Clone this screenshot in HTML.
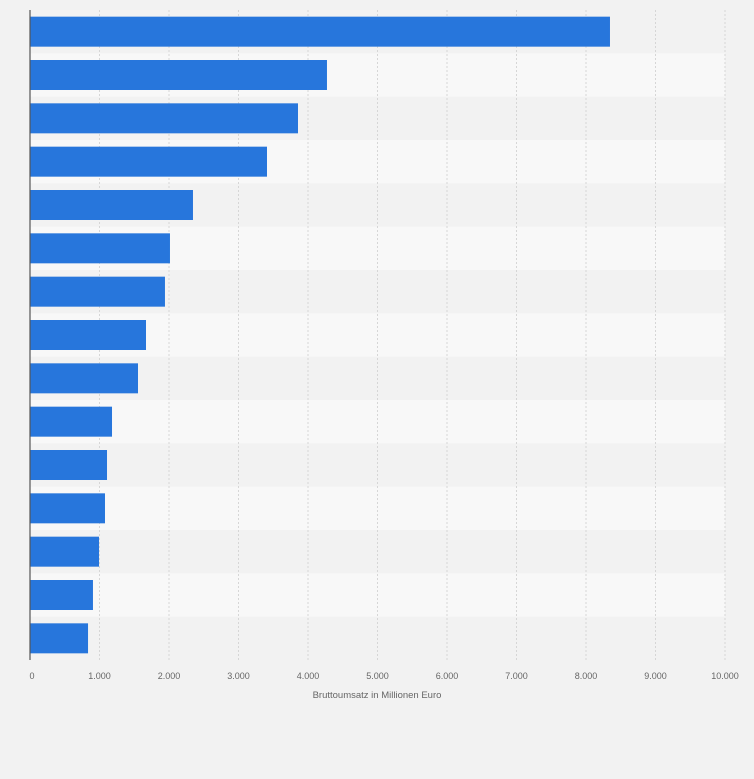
<!DOCTYPE html>
<html><head><meta charset="utf-8"><style>
body{margin:0;background:#f2f2f2;}
svg{display:block;font-family:"Liberation Sans",sans-serif;}
</style></head><body>
<svg id="chart" width="754" height="779" xmlns="http://www.w3.org/2000/svg">
<rect width="754" height="779" fill="#f2f2f2"/>
<g id="bands"></g><g id="grid"></g><g id="bars"></g><g id="ticks"></g>
<line x1="30" y1="10" x2="30" y2="660" stroke="#555" stroke-width="1.2"/>
<text x="377" y="698" text-anchor="middle" font-size="9.5" fill="#666">Bruttoumsatz in Millionen Euro</text>
</svg>
<script>
const categories=["c1","c2","c3","c4","c5","c6","c7","c8","c9","c10","c11","c12","c13","c14","c15"];
const values=[8345,4273,3856,3410,2345,2014,1942,1669,1554,1180,1108,1079,993,906,835];
const tickValues=[0,1000,2000,3000,4000,5000,6000,7000,8000,9000,10000];
const tickLabels=["0","1.000","2.000","3.000","4.000","5.000","6.000","7.000","8.000","9.000","10.000"];
const NS="http://www.w3.org/2000/svg";
const x0=30,x1=725,plotTop=10,plotBot=660,maxVal=10000;
const xs=v=>x0+(x1-x0)*v/maxVal;
const band=(plotBot-plotTop)/categories.length;
const bandsG=document.getElementById('bands'),gridG=document.getElementById('grid'),barsG=document.getElementById('bars'),ticksG=document.getElementById('ticks');
function mk(t,a){const e=document.createElementNS(NS,t);for(const k in a)e.setAttribute(k,a[k]);return e;}
categories.forEach((c,i)=>{
  if(i%2===1){const r=mk('rect',{x:x0,y:plotTop+i*band,width:x1-x0,height:band,fill:'#f8f8f8'});
  
  
  bandsG.appendChild(r);}
});
tickValues.forEach((v,i)=>{
  if(v>0){const l=mk('line',{x1:xs(v),x2:xs(v),y1:plotTop,y2:plotBot,stroke:'#d6d6d6','stroke-dasharray':'2,2'});
  
  
  gridG.appendChild(l);}
  const t=mk('text',{x:xs(v)+(v===0?2:0),y:679,'text-anchor':'middle','font-size':'9',fill:'#666'});
  t.textContent=tickLabels[i];
  
  
  ticksG.appendChild(t);
});
values.forEach((v,i)=>{
  const cy=plotTop+band*(i+0.5);
  const r=mk('rect',{x:x0,y:cy-15,width:xs(v)-x0,height:30,fill:'#2776dc'});
  
  
  barsG.appendChild(r);
});
</script>
</body></html>
